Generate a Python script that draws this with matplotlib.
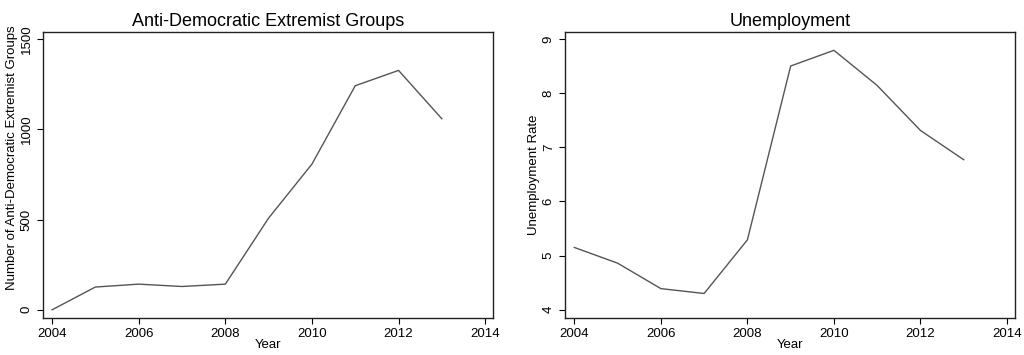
import matplotlib
matplotlib.use("Agg")
import matplotlib.pyplot as plt

plt.rcParams['font.family'] = ['Liberation Sans', 'DejaVu Sans']

years = [2004, 2005, 2006, 2007, 2008, 2009, 2010, 2011, 2012, 2013]
groups = [0, 126, 142, 129, 142, 508, 807, 1241, 1326, 1058]
unemployment = [5.15, 4.86, 4.39, 4.30, 5.29, 8.50, 8.79, 8.14, 7.31, 6.77]

xticks = [2004, 2006, 2008, 2010, 2012, 2014]

fig = plt.figure(figsize=(10.24, 3.55), dpi=100)
ax1 = fig.add_axes([0.042, 0.104, 0.4394, 0.806])
ax2 = fig.add_axes([0.552, 0.104, 0.439, 0.806])

panels = [
    (ax1, groups, "Anti-Democratic Extremist Groups",
     "Number of Anti-Democratic Extremist Groups", [0, 500, 1000, 1500], (-46, 1539), 0.56),
    (ax2, unemployment, "Unemployment", "Unemployment Rate",
     [4, 5, 6, 7, 8, 9], (3.846, 9.129), 0.5),
]

for ax, vals, title, ylabel, yticks, ylim, ypos in panels:
    ax.plot(years, vals, color="#555555", lw=1.0)
    ax.set_xlim(2003.79, 2014.18)
    ax.set_ylim(*ylim)
    ax.set_xticks(xticks)
    ax.set_yticks(yticks)
    ax.tick_params(direction="out", length=4.5, width=0.8, labelsize=9.5, pad=3)
    for lab in ax.get_yticklabels():
        lab.set_rotation(90)
        lab.set_va("center")
    ax.set_title(title, fontsize=13, pad=4)
    ax.set_xlabel("Year", fontsize=9.5, labelpad=-1)
    ax.set_ylabel(ylabel, fontsize=9.5)
    ax.yaxis.set_label_coords(-0.056, ypos)
    for s in ax.spines.values():
        s.set_color("#222222")
        s.set_linewidth(1.0)

fig.savefig("out.png", dpi=100)
